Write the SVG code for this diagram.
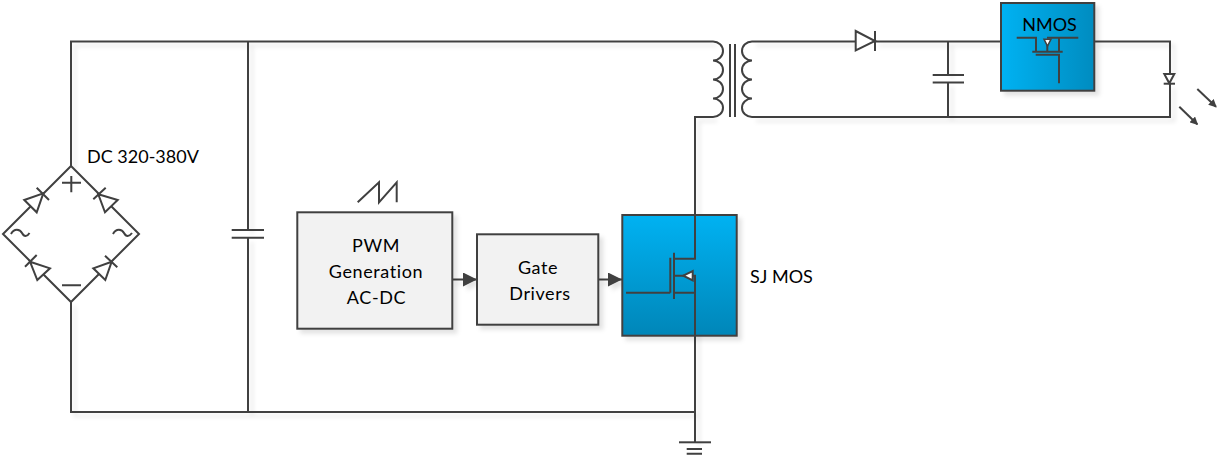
<svg xmlns="http://www.w3.org/2000/svg" width="1221" height="456" viewBox="0 0 1221 456">
<style>
.w{fill:none;stroke:#404040;stroke-width:2}
.d{fill:#fff;stroke:#404040;stroke-width:2;stroke-linejoin:miter}
.g{fill:#f2f2f2;stroke:#404040;stroke-width:2}
text{font-family:"Lato","Open Sans","Liberation Sans",sans-serif;font-size:18px;fill:#000}
.c{text-anchor:middle}
.s{letter-spacing:.6px}
</style>
<defs>
<filter id="sh" x="-10%" y="-10%" width="125%" height="125%"><feDropShadow dx="4" dy="4" stdDeviation="2" flood-color="#000" flood-opacity="0.11"/></filter>
<linearGradient id="gv" x1="0" y1="0" x2="0" y2="1"><stop offset="0" stop-color="#00b2f2"/><stop offset="1" stop-color="#0086b8"/></linearGradient>
<linearGradient id="gh" x1="0" y1="0" x2="1" y2="0"><stop offset="0" stop-color="#00b2f2"/><stop offset="1" stop-color="#008cc0"/></linearGradient>
<marker id="ah" markerUnits="userSpaceOnUse" markerWidth="14" markerHeight="14" refX="14" refY="7" orient="auto"><path d="M0 0L14 7L0 14Z" fill="#404040"/></marker>
<marker id="as" markerUnits="userSpaceOnUse" markerWidth="8" markerHeight="8" refX="7" refY="4" orient="auto"><path d="M0 0L8 4L0 8Z" fill="#404040"/></marker>
</defs>

<g id="connectors" filter="url(#sh)">
<path class="w" d="M71 166V41.500H713"/>
<path class="w" d="M71 302V412H695"/>
<path class="w" d="M248 41.500V230M248 238V412"/>
<path class="w" d="M695 258.700V117H713"/>
<path class="w" d="M695 276V442"/>
<path class="w" d="M752 41.500H856M875 41.500H1001"/>
<path class="w" d="M752 117H1170V84"/>
<path class="w" d="M948 41.500V75M948 82.500V117"/>
<path class="w" d="M1094 41.500H1170V74"/>
<path class="w" d="M452 279.500H477" marker-end="url(#ah)"/>
<path class="w" d="M598 279.500H622" marker-end="url(#ah)"/>
</g>

<g id="bridge">
<path class="w" d="M71 166L43 194M31 206L3 234L31 262M43 274L71 302L99 274M111 262L139 234L111 206M99 194L71 166"/>
<path class="d" d="M24.300 200L36.700 212.300L43.300 193.300Z"/>
<path class="d" d="M98.300 194.300L117.700 200L105 212.300Z"/>
<path class="d" d="M30 261.700L50 268.300L37.300 280Z"/>
<path class="d" d="M111.700 261.700L93.300 268.300L105.300 280Z"/>
<path class="w" d="M36.700 187.700L49 200M93.300 199.300L105.700 187.700M25 266.700L36.700 255M105 255.700L117.300 267.300"/>
<path class="w" d="M62 182.700H81M71.300 176V192.300M62 285.300H81"/>
<path class="w" d="M11 234C14 228 20 229 22 233C24 237 27 237 29.500 233M113 234C116 228 122 229 124 233C126 237 129 237 132 233"/>
<text x="87" y="163">DC 320-380V</text>
</g>

<g id="bulk-cap"><path class="w" d="M231.700 230H264M231.700 237.700H264"/></g>

<g id="pwm" filter="url(#sh)">
<rect class="g" x="297.300" y="212.300" width="155" height="116.400"/>
</g>
<g id="pwm-label">
<path class="w" d="M357.700 202.300L379 182.300V202.300L396.700 182.300V202.300"/>
<text class="c s" x="376" y="252">PWM</text>
<text class="c s" x="376" y="278">Generation</text>
<text class="c s" x="376.500" y="303.500">AC-DC</text>
</g>

<g id="gate-drivers" filter="url(#sh)">
<rect class="g" x="477" y="234.300" width="121.300" height="90.400"/>
</g>
<g id="gate-label">
<text class="c s" x="538" y="274">Gate</text>
<text class="c s" x="540" y="300">Drivers</text>
</g>

<g id="sj-mos">
<rect x="622.300" y="215" width="114.400" height="120.700" fill="url(#gv)" stroke="#404040" stroke-width="2" filter="url(#sh)"/>
<path class="w" d="M695 215V258.700H674M674 252.700V299M670.300 257.700V292.700M626 292.700H670.300M674 292.700H695V335.700M674 275.700H684M692.700 275.700H695V336"/>
<path class="d" d="M683.300 275.700L692.700 271V280.400Z"/>
<text x="750" y="283">SJ MOS</text>
</g>

<g id="transformer">
<path class="w" d="M713 41.500A10 9.500 0 0 1 713 60.500A10 9.500 0 0 1 713 79.500A10 9.500 0 0 1 713 98.500A10 9.250 0 0 1 713 117"/>
<path class="w" d="M752 41.500A10 9.500 0 0 0 752 60.500A10 9.500 0 0 0 752 79.500A10 9.500 0 0 0 752 98.500A10 9.250 0 0 0 752 117"/>
<path class="w" d="M730 44V117M735 44V117"/>
</g>

<g id="diode">
<path class="d" d="M855.700 31V50.500L875 41Z"/>
<path class="w" d="M875 31V51"/>
</g>

<g id="output-cap"><path class="w" d="M932.700 75H964M932.700 82.500H964"/></g>

<g id="nmos">
<rect x="1001" y="3" width="93.300" height="87.700" fill="url(#gh)" stroke="#404040" stroke-width="2" filter="url(#sh)"/>
<text class="c" x="1049.500" y="31">NMOS</text>
<path class="w" d="M1016.700 37.700H1036V51.700M1047 37.700H1078.300M1059 37.700V51.700M1032.300 51.700H1062.700M1035.700 54.700H1059V83.300M1047.300 45V51.700"/>
<path d="M1044 39.200H1051L1047.500 46Z" fill="#fff" stroke="#404040" stroke-width="1.500"/>
</g>

<g id="led">
<path class="d" d="M1164.300 74H1174.300L1169.300 83.300Z"/>
<path class="w" d="M1163.700 83.700H1175"/>
<path class="w" d="M1197.300 89L1216 106.700" marker-end="url(#as)"/>
<path class="w" d="M1179.300 106.700L1197.300 124.300" marker-end="url(#as)"/>
</g>

<g id="ground">
<path class="w" d="M679 442.300H711"/>
<path class="w" d="M686.700 449H702M686.700 453.700H702"/>
</g>
</svg>
